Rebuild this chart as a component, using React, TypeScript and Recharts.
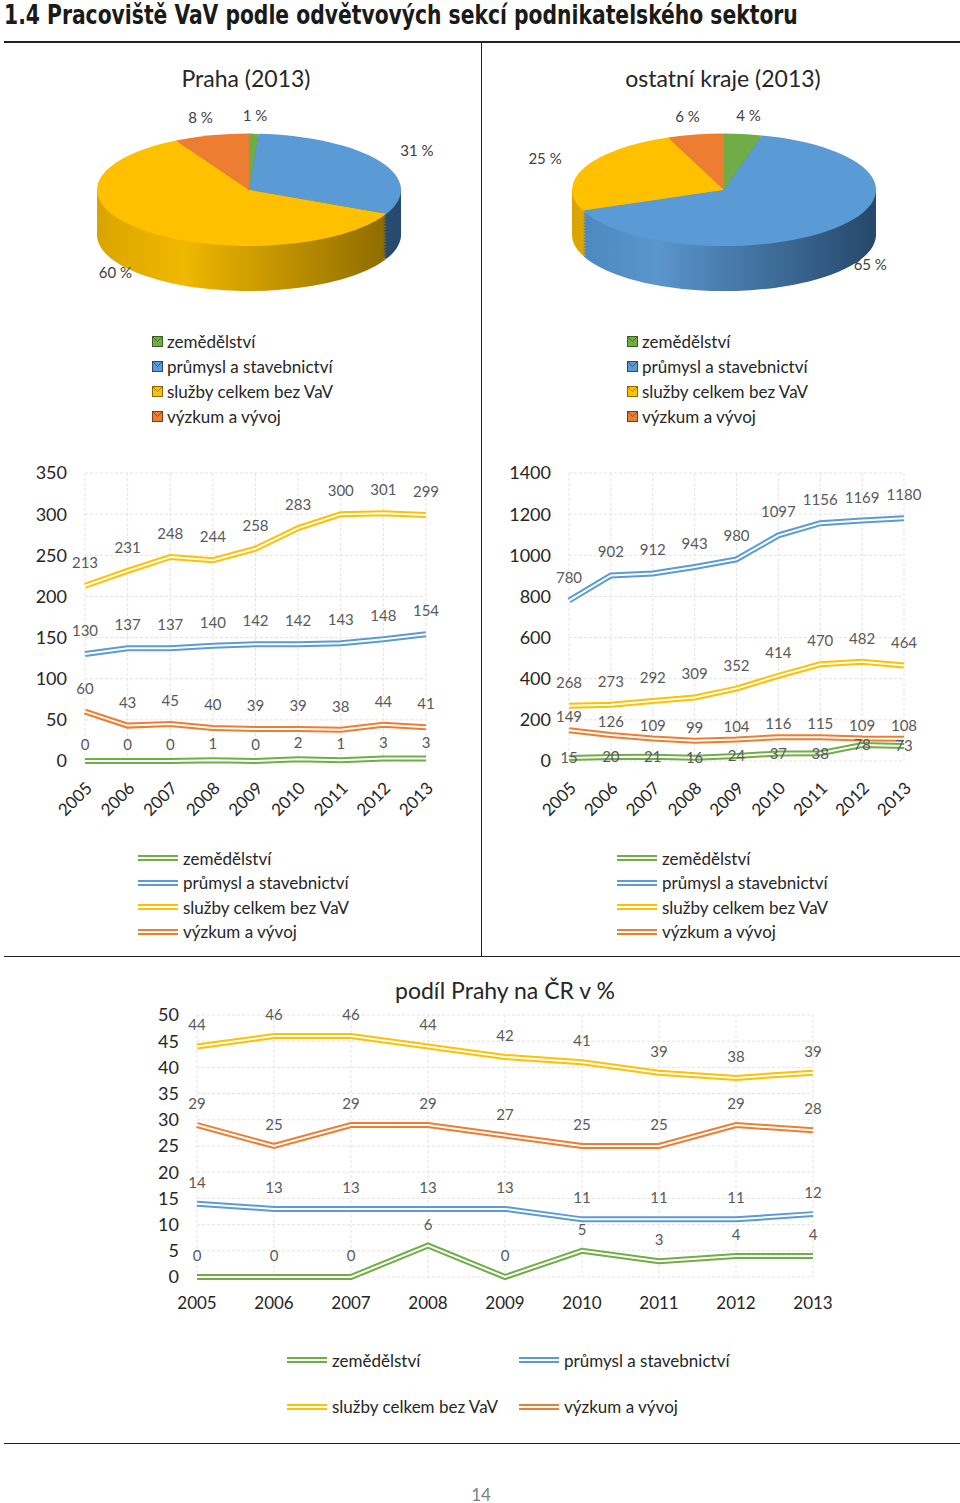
import React from "react";
import {
  PieChart,
  Pie,
  Cell,
  LineChart,
  Line,
  XAxis,
  YAxis,
  CartesianGrid,
  LabelList,
  Legend,
} from "recharts";

// ---- data ----
const years = ["2005", "2006", "2007", "2008", "2009", "2010", "2011", "2012", "2013"];
const sectors = ["zemědělství", "průmysl a stavebnictví", "služby celkem bez VaV", "výzkum a vývoj"];
const sectorKeys = ["zem", "prum", "sluz", "vyz"];
const sectorColors = ["#70ad47", "#5b9bd5", "#ffc000", "#ed7d31"];

const prahaShare2013 = [1, 31, 60, 8];
const ostatniShare2013 = [4, 65, 25, 6];

const prahaZemedelstvi = [0, 0, 0, 1, 0, 2, 1, 3, 3];
const prahaPrumysl = [130, 137, 137, 140, 142, 142, 143, 148, 154];
const prahaSluzby = [213, 231, 248, 244, 258, 283, 300, 301, 299];
const prahaVyzkum = [60, 43, 45, 40, 39, 39, 38, 44, 41];

const ostatniZemedelstvi = [15, 20, 21, 16, 24, 37, 38, 78, 73];
const ostatniPrumysl = [780, 902, 912, 943, 980, 1097, 1156, 1169, 1180];
const ostatniSluzby = [268, 273, 292, 309, 352, 414, 470, 482, 464];
const ostatniVyzkum = [149, 126, 109, 99, 104, 116, 115, 109, 108];

const podilZemedelstvi = [0, 0, 0, 6, 0, 5, 3, 4, 4];
const podilPrumysl = [14, 13, 13, 13, 13, 11, 11, 11, 12];
const podilSluzby = [44, 46, 46, 44, 42, 41, 39, 38, 39];
const podilVyzkum = [29, 25, 29, 29, 27, 25, 25, 29, 28];

const prahaTicks = [0, 50, 100, 150, 200, 250, 300, 350];
const ostatniTicks = [0, 200, 400, 600, 800, 1000, 1200, 1400];
const podilTicks = [0, 5, 10, 15, 20, 25, 30, 35, 40, 45, 50];

const FONT = "Lato, 'Open Sans', sans-serif";
const TEXT = "#262626";
const LABEL = "#595959";

const makeRows = (zem: number[], prum: number[], sluz: number[], vyz: number[]) =>
  years.map((year, i) => ({ year, zem: zem[i], prum: prum[i], sluz: sluz[i], vyz: vyz[i] }));

const prahaRows = makeRows(prahaZemedelstvi, prahaPrumysl, prahaSluzby, prahaVyzkum);
const ostatniRows = makeRows(ostatniZemedelstvi, ostatniPrumysl, ostatniSluzby, ostatniVyzkum);
const podilRows = makeRows(podilZemedelstvi, podilPrumysl, podilSluzby, podilVyzkum);

// ---- pie (fake 3D) ----
const SQ = 0.37; // vertical squash of the pie disc
const THICK = 45;
const STEP = 3;
const PIE_CX = 244;
const PIE_CY = 138;
const PIE_R = 152;

const sideStops: string[][] = [
  ["#5d9139", "#6ea648", "#3b5f22"],
  ["#4a86bf", "#5a95cc", "#26496d"],
  ["#d9a300", "#f0b800", "#8a6800"],
  ["#c9662a", "#dd7434", "#7d3d14"],
];

const pieLabel = (props: any) => {
  const { cx, cy, midAngle, value } = props;
  const rad = Math.PI / 180;
  const c = Math.cos(midAngle * rad);
  const s = Math.sin(midAngle * rad);
  const R = 195;
  const x = cx + R * c;
  const y = cy - 6 - R * s * SQ + (s < 0 ? -s * THICK : 0);
  return (
    <text x={x} y={y} textAnchor="middle" dominantBaseline="central" fill="#404040" fontSize={15} fontFamily={FONT}>
      {value} %
    </text>
  );
};

const PieLegend = () => (
  <div style={{ fontFamily: FONT, fontSize: 17, color: TEXT }}>
    {sectors.map((s, i) => (
      <div key={s} style={{ display: "flex", alignItems: "center", height: 25 }}>
        <svg width={11} height={11} style={{ marginRight: 4 }}>
          <rect x={0.5} y={0.5} width={10} height={10} fill={sectorColors[i]} stroke={sideStops[i][2]} />
          <path d="M0.5 0.5 L5.5 5.5 L10.5 0.5" fill="none" stroke={sideStops[i][2]} strokeWidth={0.8} />
        </svg>
        <span>{s}</span>
      </div>
    ))}
  </div>
);

const Pie3D = ({ id, shares, left, top }: { id: string; shares: number[]; left: number; top: number }) => {
  const data = sectors.map((name, i) => ({ name, value: shares[i] }));
  const layers: number[] = [];
  for (let k = Math.round(THICK / STEP); k >= 1; k--) layers.push(k);
  return (
    <div style={{ position: "absolute", left, top }}>
      <PieChart width={482} height={400} className={id}>
        <defs>
          {sideStops.map((st, i) => (
            <linearGradient
              key={i}
              id={`${id}-side-${i}`}
              gradientUnits="userSpaceOnUse"
              x1={PIE_CX - PIE_R}
              x2={PIE_CX + PIE_R}
              y1={0}
              y2={0}
            >
              <stop offset="0" stopColor={st[0]} />
              <stop offset="0.3" stopColor={st[1]} />
              <stop offset="1" stopColor={st[2]} />
            </linearGradient>
          ))}
        </defs>
        {layers.map((k) => (
          <Pie
            key={k}
            data={data}
            dataKey="value"
            cx={PIE_CX}
            cy={PIE_CY + (k * STEP) / SQ}
            outerRadius={PIE_R}
            startAngle={90}
            endAngle={-270}
            stroke="none"
            legendType="none"
            isAnimationActive={false}
          >
            {data.map((d, i) => (
              <Cell key={d.name} fill={`url(#${id}-side-${i})`} />
            ))}
          </Pie>
        ))}
        <Pie
          data={data}
          dataKey="value"
          cx={PIE_CX}
          cy={PIE_CY}
          outerRadius={PIE_R}
          startAngle={90}
          endAngle={-270}
          stroke="none"
          label={pieLabel}
          labelLine={false}
          isAnimationActive={false}
        >
          {data.map((d, i) => (
            <Cell key={d.name} fill={sectorColors[i]} />
          ))}
        </Pie>
        <Legend
          layout="vertical"
          align="center"
          verticalAlign="middle"
          content={() => <PieLegend />}
          wrapperStyle={{ left: 152, top: 279, width: 260, height: 100 }}
        />
      </PieChart>
    </div>
  );
};

// ---- line charts ----
const LineLegendRow = ({ i }: { i: number }) => (
  <div style={{ display: "flex", alignItems: "center", height: 24.5 }}>
    <svg width={40} height={8} style={{ marginRight: 5 }}>
      <line x1={0} y1={4} x2={40} y2={4} stroke={sectorColors[i]} strokeWidth={6} />
      <line x1={0} y1={4} x2={40} y2={4} stroke="#fff" strokeWidth={2} />
    </svg>
    <span>{sectors[i]}</span>
  </div>
);

const LineLegendVertical = () => (
  <div style={{ fontFamily: FONT, fontSize: 17, color: TEXT }}>
    {sectors.map((s, i) => (
      <LineLegendRow key={s} i={i} />
    ))}
  </div>
);

const LineLegendGrid = () => (
  <div style={{ fontFamily: FONT, fontSize: 17, color: TEXT, display: "grid", gridTemplateColumns: "232px 232px", rowGap: 22 }}>
    {sectors.map((s, i) => (
      <LineLegendRow key={s} i={i} />
    ))}
  </div>
);

const RotatedTick = (props: any) => {
  const { x, y, payload } = props;
  return (
    <g transform={`translate(${x + 4},${y + 8})`}>
      <text transform="rotate(-45)" textAnchor="end" dy="0.35em" fill={TEXT} fontSize={17} fontFamily={FONT}>
        {payload.value}
      </text>
    </g>
  );
};

type SeriesChartProps = {
  rows: any[];
  ticks: number[];
  left: number;
  top: number;
  width: number;
  height: number;
  margin: { top: number; right: number; left: number; bottom: number };
  yWidth: number;
  xHeight: number;
  xMargin: number;
  rotated: boolean;
  labelOffsets: (number | "center")[];
  legend: React.ReactNode;
  legendStyle: React.CSSProperties;
};

const SeriesChart = (p: SeriesChartProps) => (
  <div style={{ position: "absolute", left: p.left, top: p.top }}>
    <LineChart width={p.width} height={p.height} data={p.rows} margin={p.margin}>
      <CartesianGrid stroke="#e3e3e3" strokeDasharray="3 2" />
      <XAxis
        dataKey="year"
        interval={0}
        axisLine={false}
        tickLine={false}
        tickSize={0}
        tickMargin={p.xMargin}
        height={p.xHeight}
        tick={p.rotated ? <RotatedTick /> : { fill: TEXT, fontSize: 17, fontFamily: FONT }}
      />
      <YAxis
        width={p.yWidth}
        domain={[p.ticks[0], p.ticks[p.ticks.length - 1]]}
        ticks={p.ticks}
        interval={0}
        axisLine={false}
        tickLine={false}
        tickSize={0}
        tickMargin={18}
        tick={{ fill: TEXT, fontSize: 18, fontFamily: FONT }}
      />
      {sectorKeys.map((k, i) => (
        <Line
          key={k}
          dataKey={k}
          name={sectors[i]}
          type="linear"
          stroke={sectorColors[i]}
          strokeWidth={6}
          dot={false}
          isAnimationActive={false}
        >
          {p.labelOffsets[i] === "center" ? (
            <LabelList dataKey={k} position="center" fill={LABEL} fontSize={15} fontFamily={FONT} />
          ) : (
            <LabelList
              dataKey={k}
              position="top"
              offset={p.labelOffsets[i] as number}
              fill={LABEL}
              fontSize={15}
              fontFamily={FONT}
            />
          )}
        </Line>
      ))}
      {sectorKeys.map((k) => (
        <Line
          key={`${k}-in`}
          dataKey={k}
          type="linear"
          stroke="#fff"
          strokeWidth={2}
          dot={false}
          legendType="none"
          isAnimationActive={false}
        />
      ))}
      <Legend
        layout="vertical"
        align="center"
        verticalAlign="middle"
        content={() => p.legend}
        wrapperStyle={p.legendStyle}
      />
    </LineChart>
  </div>
);

export default function App() {
  return (
    <div
      style={{
        position: "absolute",
        left: 0,
        top: 0,
        width: 960,
        height: 1503,
        background: "#fff",
        overflow: "hidden",
        fontFamily: FONT,
      }}
    >
      <style>{`
        .pieA .recharts-pie-sector, .pieB .recharts-pie-sector {
          transform-origin: ${PIE_CX}px ${PIE_CY}px;
          transform: scaleY(${SQ});
        }
      `}</style>

      <div
        style={{
          position: "absolute",
          left: 4,
          top: 0,
          fontFamily: "'DejaVu Sans Condensed', 'Liberation Sans Narrow', sans-serif",
          fontWeight: 700,
          fontSize: 26,
          lineHeight: "30px",
          color: "#1a1a1a",
          whiteSpace: "nowrap",
          transform: "scaleX(0.868)",
          transformOrigin: "0 0",
        }}
      >
        1.4 Pracoviště VaV podle odvětvových sekcí podnikatelského sektoru
      </div>
      <div style={{ position: "absolute", left: 4, top: 41, width: 956, height: 2, background: "#222" }} />
      <div style={{ position: "absolute", left: 481, top: 42, width: 1, height: 914, background: "#222" }} />
      <div style={{ position: "absolute", left: 4, top: 956, width: 956, height: 1, background: "#222" }} />
      <div style={{ position: "absolute", left: 4, top: 1443, width: 956, height: 1, background: "#222" }} />

      <div style={{ position: "absolute", left: 96, width: 300, top: 64, textAlign: "center", fontSize: 23, color: TEXT }}>
        Praha (2013)
      </div>
      <div style={{ position: "absolute", left: 573, width: 300, top: 64, textAlign: "center", fontSize: 23, color: TEXT }}>
        ostatní kraje (2013)
      </div>

      <Pie3D id="pieA" shares={prahaShare2013} left={0} top={50} />
      <Pie3D id="pieB" shares={ostatniShare2013} left={475} top={50} />

      <SeriesChart
        rows={prahaRows}
        ticks={prahaTicks}
        left={0}
        top={460}
        width={470}
        height={490}
        margin={{ top: 13, right: 44, left: 0, bottom: 125 }}
        yWidth={85}
        xHeight={64}
        xMargin={16}
        rotated
        labelOffsets={[11, 18, 18, 18]}
        legend={<LineLegendVertical />}
        legendStyle={{ left: 138, top: 386, width: 260, height: 100 }}
      />
      <SeriesChart
        rows={ostatniRows}
        ticks={ostatniTicks}
        left={482}
        top={460}
        width={470}
        height={490}
        margin={{ top: 13, right: 48, left: 0, bottom: 125 }}
        yWidth={87}
        xHeight={64}
        xMargin={16}
        rotated
        labelOffsets={["center", 18, 18, 8]}
        legend={<LineLegendVertical />}
        legendStyle={{ left: 135, top: 386, width: 260, height: 100 }}
      />

      <div style={{ position: "absolute", left: 355, width: 300, top: 976, textAlign: "center", fontSize: 23, color: TEXT }}>
        podíl Prahy na ČR v %
      </div>
      <SeriesChart
        rows={podilRows}
        ticks={podilTicks}
        left={100}
        top={1000}
        width={760}
        height={430}
        margin={{ top: 15, right: 47, left: 0, bottom: 113 }}
        yWidth={97}
        xHeight={40}
        xMargin={20}
        rotated={false}
        labelOffsets={[16, 16, 16, 16]}
        legend={<LineLegendGrid />}
        legendStyle={{ left: 187, top: 348, width: 480, height: 80 }}
      />

      <div
        style={{
          position: "absolute",
          left: 431,
          width: 100,
          top: 1484,
          lineHeight: "22px",
          textAlign: "center",
          fontSize: 17,
          color: "#808080",
        }}
      >
        14
      </div>
    </div>
  );
}
